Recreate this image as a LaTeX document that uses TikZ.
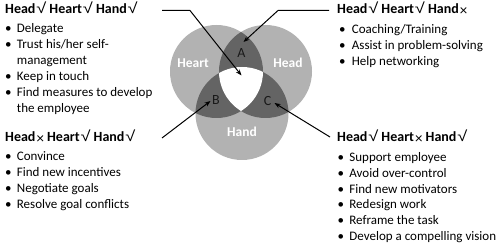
\documentclass[tikz,border=0pt]{standalone}
\usepackage{fontspec}
\usepackage{graphicx}
\setmainfont{Carlito}
\newfontfamily\symf{Liberation Sans}
\usetikzlibrary{arrows.meta}
\definecolor{lightg}{RGB}{178,178,178}
\definecolor{darkg}{RGB}{100,100,100}
\definecolor{labg}{RGB}{25,25,25}
\newcommand\ok{\hspace{0.8pt}\scalebox{1.3}[1.05]{\symf\mdseries √}}
\newcommand\no{\hspace{1pt}\raisebox{-2pt}{\mdseries\fontsize{15}{16}\selectfont ×}}
\newcommand\itm[1]{\makebox[11.7pt][l]{•}#1}
\newcommand\cnt[1]{\makebox[11.7pt][l]{}#1}
\begin{document}
\begin{tikzpicture}[x=1pt,y=-1pt,
  head/.style={anchor=base west, inner sep=0pt, font=\fontsize{14}{16}\selectfont\bfseries},
  list/.style={anchor=base west, inner sep=0pt, font=\fontsize{13}{16}\selectfont},
  clab/.style={text=white, inner sep=0pt, font=\fontsize{13.5}{16}\selectfont\bfseries},
  rlab/.style={text=labg, inner sep=0pt, font=\fontsize{14}{16}\selectfont},
  conn/.style={line width=1pt, draw=black},
  arr/.style={conn, -{Stealth[length=6pt,width=4.5pt]}}]
\useasboundingbox (0,0) rectangle (500,245);
\def\R{46.5pt}
% Venn centres
\coordinate (cHeart) at (216.5,71.5);
\coordinate (cHead) at (265.5,71.5);
\coordinate (cHand) at (242,113.5);
\fill[lightg] (cHeart) circle[radius=\R];
\fill[lightg] (cHead) circle[radius=\R];
\fill[lightg] (cHand) circle[radius=\R];
\begin{scope}
  \clip (cHeart) circle[radius=\R];
  \fill[darkg] (cHead) circle[radius=\R];
  \fill[darkg] (cHand) circle[radius=\R];
\end{scope}
\begin{scope}
  \clip (cHead) circle[radius=\R];
  \fill[darkg] (cHand) circle[radius=\R];
\end{scope}
\begin{scope}
  \clip (cHeart) circle[radius=\R];
  \clip (cHead) circle[radius=\R];
  \fill[white] (cHand) circle[radius=\R];
\end{scope}
% circle labels
\node[clab] (lheart) at (193,63) {Heart};
\node[clab] (lhead) at (288,63) {Head};
\node[clab] (lhand) at (242,132) {Hand};
\node[rlab] (la) at (241.3,53) {A};
\node[rlab] (lb) at (216,100.5) {B};
\node[rlab] (lc) at (267.5,101) {C};
% text blocks
\node[head] (h1) at (5,14) {Head\ok\ Heart\ok\ Hand\ok};
\node[list] (l1) at (5,33) {\begin{tabular}[t]{@{}l@{}}
\itm{Delegate}\\
\itm{Trust his/her self-}\\
\cnt{management}\\
\itm{Keep in touch}\\
\itm{Find measures to develop}\\
\cnt{the employee}
\end{tabular}};
\node[head] (h2) at (337,13.5) {Head\ok\ Heart\ok\ Hand\no};
\node[list] (l2) at (339,33.3) {\begin{tabular}[t]{@{}l@{}}
\makebox[12.7pt][l]{•}Coaching/Training\\
\makebox[12.7pt][l]{•}Assist in problem-solving\\
\makebox[12.7pt][l]{•}Help networking
\end{tabular}};
\node[head] (h3) at (5,141.7) {Head\no\ Heart\ok\ Hand\ok};
\node[list] (l3) at (5,160.7) {\begin{tabular}[t]{@{}l@{}}
\itm{Convince}\\
\itm{Find new incentives}\\
\itm{Negotiate goals}\\
\itm{Resolve goal conflicts}
\end{tabular}};
\node[head] (h4) at (337,141.7) {Head\ok\ Heart\no\ Hand\ok};
\node[list, font=\fontsize{13}{15.7}\selectfont] (l4) at (337.5,161.7) {\begin{tabular}[t]{@{}l@{}}
\itm{Support employee}\\
\itm{Avoid over-control}\\
\itm{Find new motivators}\\
\itm{Redesign work}\\
\itm{Reframe the task}\\
\itm{Develop a compelling vision}
\end{tabular}};
% connectors
\coordinate (s1) at (162,10.5);
\coordinate (k1) at (190,10.5);
\coordinate (t1) at (241.5,75.5);
\coordinate (s2) at (329,10.5);
\coordinate (k2) at (278,10.5);
\coordinate (t2) at (243.5,42);
\coordinate (s3) at (162,138);
\coordinate (t3) at (210.5,101);
\coordinate (s4) at (330,137);
\coordinate (t4) at (274.5,103);
\draw[arr] (s1) -- (k1) -- (t1);
\draw[arr] (s2) -- (k2) -- (t2);
\draw[arr] (s3) -- (t3);
\draw[arr] (s4) -- (t4);
\end{tikzpicture}
\end{document}
